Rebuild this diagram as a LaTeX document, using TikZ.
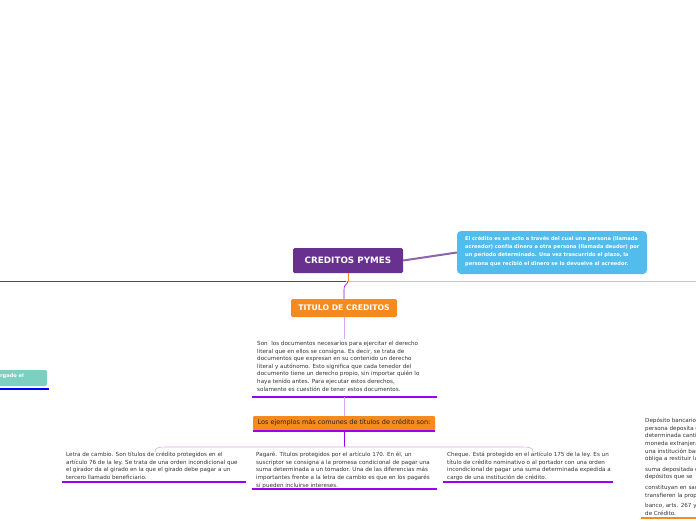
\documentclass[tikz,border=0pt]{standalone}
\usepackage{fontspec}
\setmainfont{DejaVu Sans}
\definecolor{pymes}{HTML}{68318F}
\definecolor{celeste}{HTML}{52BDEC}
\definecolor{naranja}{HTML}{F58A1F}
\definecolor{morado}{HTML}{9B00F0}
\definecolor{lila}{HTML}{D9A8F2}
\definecolor{verde}{HTML}{7DCFC0}
\tikzset{
  titulo/.style={rectangle, rounded corners=1.5pt, inner sep=0pt, font=\bfseries\fontsize{7.7}{9}\selectfont, text=white},
  texto/.style={inner sep=0pt, align=left, anchor=north west, font=\fontsize{5.6}{7.6}\selectfont, text=black!80},
  subraya/.style={morado, line width=2pt},
  rama/.style={lila, line width=0.6pt}
}
\begin{document}
\begin{tikzpicture}[x=1pt,y=-1pt]
  \useasboundingbox (0,0) rectangle (696,520);
  \clip (0,0) rectangle (696,520);
  \fill[white] (0,0) rectangle (696,520);

  %Linea horizontal
  \draw[black!70, line width=0.5pt] (0,281) -- (346,281);
  \draw[naranja!60, line width=0.5pt] (346,281) -- (696,281);

  %Nodo central
  \node[titulo, fill=pymes, minimum width=110pt, minimum height=25pt, font=\bfseries\fontsize{8.8}{10}\selectfont] (pymes) at (348,260.5) {CREDITOS PYMES};
  \node[rectangle, rounded corners=4pt, fill=celeste, minimum width=190pt, minimum height=43pt] (credito) at (552,252.5) {};
  \node[texto, text=white, font=\bfseries\fontsize{5.1}{8.3}\selectfont] (credtxt) at (465,236) {El crédito es un acto a través del cual una persona (llamada\\acreedor) confía dinero a otra persona (llamada deudor) por\\un periodo determinado. Una vez trascurrido el plazo, la\\persona que recibió el dinero se lo devuelve al acreedor.};
  \draw[pymes!75, line width=2pt] (pymes.east) -- (credito.west);

  %Titulo de creditos
  \node[titulo, fill=naranja, minimum width=106pt, minimum height=18pt] (titulo) at (344,308) {TITULO DE CREDITOS};
  \draw[naranja, line width=0.8pt] (pymes.south) -- (348,281);
  \draw[morado, line width=0.6pt] (348,281) .. controls (348,285) and (344,283) .. (344,290) -- (titulo.north);

  %Definicion
  \node[texto] (definicion) at (257,341) {Son \ los documentos necesarios para ejercitar el derecho\\literal que en ellos se consigna. Es decir, se trata de\\documentos que expresan en su contenido un derecho\\literal y autónomo. Esto significa que cada tenedor del\\documento tiene un derecho propio, sin importar quién lo\\haya tenido antes. Para ejecutar estos derechos,\\solamente es cuestión de tener estos documentos.};
  \coordinate (defabajo) at (344,397);
  \draw[rama] (titulo.south) -- (344,339);
  \draw[subraya] (252,397) -- (437,397);

  %Ejemplos
  \node[rectangle, rounded corners=1pt, fill=naranja, minimum width=182pt, minimum height=14pt, inner sep=0pt, font=\fontsize{6.5}{8}\selectfont, text=black!85] (ejemplos) at (344,423) {Los ejemplos más comunes de títulos de crédito son:};
  \draw[rama] (defabajo) -- (ejemplos.north);
  \draw[subraya] (253,431) -- (435,431);
  \coordinate (nudo) at (344,447);
  \draw[morado, line width=0.8pt] (344,431) -- (nudo);
  \draw[rama] (nudo) -- (165,447) .. controls (158,447) and (155,448) .. (155,452);
  \draw[rama] (nudo) -- (523,447) .. controls (530,447) and (533,448) .. (533,452);

  %Letra de cambio
  \node[texto] (letra) at (66,452) {Letra de cambio. Son títulos de crédito protegidos en el\\artículo 76 de la ley. Se trata de una orden incondicional que\\el girador da al girado en la que el girado debe pagar a un\\tercero llamado beneficiario.};
  \draw[subraya] (62,482) -- (246,482);

  %Pagare
  \node[texto] (pagare) at (256,452) {Pagaré. Títulos protegidos por el artículo 170. En él, un\\suscriptor se consigna a la promesa condicional de pagar una\\suma determinada a un tomador. Una de las diferencias más\\importantes frente a la letra de cambio es que en los pagarés\\sí pueden incluirse intereses.};
  \draw[subraya] (252,489) -- (437,489);

  %Cheque
  \node[texto] (cheque) at (447,452) {Cheque. Está protegido en el artículo 175 de la ley. Es un\\título de crédito nominativo o al portador con una orden\\incondicional de pagar una suma determinada expedida a\\cargo de una institución de crédito.};
  \draw[subraya] (443,482) -- (613,482);

  %Ramas cortadas
  \node[rectangle, rounded corners=2pt, fill=verde, minimum width=60pt, minimum height=16pt, inner sep=0pt] (izq) at (17,378) {};
  \node[texto, text=white, anchor=west, font=\bfseries\fontsize{5.1}{7}\selectfont] (izqtxt) at (0,376) {rgado el};
  \draw[blue, line width=2pt] (0,389) -- (49,389);

  \node[texto] (deposito) at (645,418) {Depósito bancario\\persona deposita u\\determinada canti\\moneda extranjera\\una institución ban\\obliga a restituir la\\[3pt]suma depositada e\\depósitos que se\\[3pt]constituyan en sac\\transfieren la prop\\[3pt]banco, arts. 267 y\\de Crédito.};
  \draw[naranja, line width=2pt] (641,518) -- (700,518);
\end{tikzpicture}
\end{document}
